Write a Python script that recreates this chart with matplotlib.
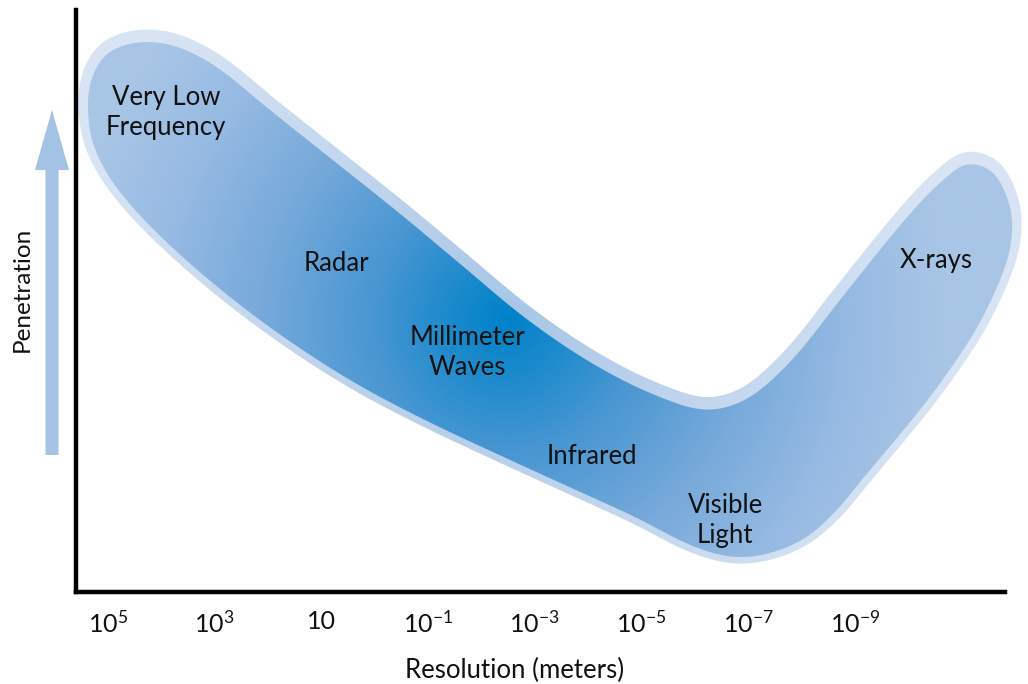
import numpy as np
import matplotlib
matplotlib.use("Agg")
import matplotlib.pyplot as plt
from matplotlib.patches import Polygon, FancyArrow
from matplotlib.colors import LinearSegmentedColormap

plt.rcParams['font.family'] = ['Lato', 'DejaVu Sans']
plt.rcParams['mathtext.fontset'] = 'custom'
plt.rcParams['mathtext.rm'] = 'Lato'

# ---------------- data ----------------
tick_exponents = [5, 3, 1, -1, -3, -5, -7, -9]
tick_labels = [r'$\mathregular{10^{5}}$', r'$\mathregular{10^{3}}$', '10',
               r'$\mathregular{10^{-1}}$', r'$\mathregular{10^{-3}}$',
               r'$\mathregular{10^{-5}}$', r'$\mathregular{10^{-7}}$',
               r'$\mathregular{10^{-9}}$']

# outline of the band (log10 resolution, penetration 0-100), clockwise
band_exp = [5.375, 5.281, 5.056, 4.738, 4.306, 3.744, 2.994, 1.963, 0.839,
            -0.473, -1.598, -2.817, -4.035, -5.160, -6.190, -6.940, -7.783,
            -8.721, -9.977, -10.595, -11.101, -11.570, -11.907, -11.907,
            -11.401, -10.839, -10.220, -9.189, -8.627, -8.065, -7.409,
            -6.752, -6.003, -4.878, -3.566, -2.254, -0.942, 0.370, 1.682,
            2.807, 3.744, 4.494, 5.000, 5.300]
band_pen = [84.5, 88.8, 92.1, 93.8, 94.5, 93.8, 90.4, 82.8, 74.6, 65.0,
            56.4, 47.1, 39.5, 34.2, 31.3, 33.0, 39.5, 50.2, 64.4, 70.3,
            73.5, 72.2, 66.2, 58.8, 47.3, 39.0, 31.3, 19.93, 13.75, 9.28,
            6.70, 6.01, 7.73, 12.89, 18.38, 23.88, 29.55, 35.91, 43.64,
            51.37, 58.76, 65.64, 71.65, 77.66]

region_labels = ["Very Low\nFrequency", "Radar", "Millimeter\nWaves",
                 "Infrared", "Visible\nLight", "X-rays"]
region_exp = [3.91, 0.71, -1.73, -4.07, -6.57, -10.52]
region_pen = [82.4, 56.4, 41.2, 23.2, 12.2, 57.0]

# gradient focus (darkest point)
focus_exp, focus_pen = -2.44, 46.7

# ---------------- layout ----------------
W, H = 1028, 684
fig = plt.figure(figsize=(W / 100, H / 100), dpi=100)
XL, XR = 5.6, -12.2
PX_PER_DEC = 53.35
PX_PER_PEN = 5.82
left_px = 108 - (XL - 5) * PX_PER_DEC
right_px = 108 + (5 - XR) * PX_PER_DEC
ax = fig.add_axes([left_px / W, 92 / H, (right_px - left_px) / W, 582 / H])
ax.set_xlim(XL, XR)
ax.set_ylim(0, 100)


def to_px(e, p):
    return np.column_stack([(5 - np.asarray(e)) * PX_PER_DEC,
                            np.asarray(p) * PX_PER_PEN])


def from_px(P):
    return np.column_stack([5 - P[:, 0] / PX_PER_DEC, P[:, 1] / PX_PER_PEN])


def cr_closed(P, n=30, alpha=0.5):
    N = len(P)
    out = []
    for i in range(N):
        p0, p1, p2, p3 = P[(i - 1) % N], P[i], P[(i + 1) % N], P[(i + 2) % N]
        t0 = 0.0
        t1 = t0 + np.linalg.norm(p1 - p0) ** alpha
        t2 = t1 + np.linalg.norm(p2 - p1) ** alpha
        t3 = t2 + np.linalg.norm(p3 - p2) ** alpha
        t = np.linspace(t1, t2, n, endpoint=False)[:, None]
        A1 = (t1 - t) / (t1 - t0) * p0 + (t - t0) / (t1 - t0) * p1
        A2 = (t2 - t) / (t2 - t1) * p1 + (t - t1) / (t2 - t1) * p2
        A3 = (t3 - t) / (t3 - t2) * p2 + (t - t2) / (t3 - t2) * p3
        B1 = (t2 - t) / (t2 - t0) * A1 + (t - t0) / (t2 - t0) * A2
        B2 = (t3 - t) / (t3 - t1) * A2 + (t - t1) / (t3 - t1) * A3
        out.append((t2 - t) / (t2 - t1) * B1 + (t - t1) / (t2 - t1) * B2)
    return np.vstack(out)


def smooth_closed(P, k=15):
    out = np.zeros_like(P)
    for s in range(-(k // 2), k // 2 + 1):
        out += np.roll(P, s, 0)
    return out / k


inner = smooth_closed(cr_closed(to_px(band_exp, band_pen)))
T = np.roll(inner, -1, 0) - np.roll(inner, 1, 0)
T /= np.linalg.norm(T, axis=1)[:, None]
x, y = inner[:, 0], inner[:, 1]
area = 0.5 * np.sum(x * np.roll(y, -1) - np.roll(x, -1) * y)
if area > 0:
    Nrm = np.column_stack([T[:, 1], -T[:, 0]])
else:
    Nrm = np.column_stack([-T[:, 1], T[:, 0]])
halo = inner + 9.5 * Nrm + np.array([0.0, 3.0])

inner_d = from_px(inner)
halo_d = from_px(halo)

halo_patch = Polygon(halo_d, closed=True, fill=False, lw=0)
inner_patch = Polygon(inner_d, closed=True, fill=False, lw=0)
ax.add_patch(halo_patch)
ax.add_patch(inner_patch)

# gradient image
nx, ny = 1000, 600
ge = np.linspace(XL, XR, nx)
gp = np.linspace(0, 100, ny)
GE, GP = np.meshgrid(ge, gp)
dist = np.hypot((GE - focus_exp) * PX_PER_DEC, (GP - focus_pen) * PX_PER_PEN)
r = np.clip(dist / 440.0, 0, 1)
cmap = LinearSegmentedColormap.from_list("band", [
    (0.00, (0 / 255, 130 / 255, 200 / 255)),
    (0.12, (26 / 255, 138 / 255, 204 / 255)),
    (0.30, (72 / 255, 150 / 255, 210 / 255)),
    (0.55, (118 / 255, 169 / 255, 218 / 255)),
    (0.80, (152 / 255, 187 / 255, 227 / 255)),
    (1.00, (168 / 255, 197 / 255, 230 / 255)),
])
halo_cmap = LinearSegmentedColormap.from_list("halo", [
    (0.00, (166 / 255, 198 / 255, 230 / 255)),
    (0.35, (188 / 255, 210 / 255, 236 / 255)),
    (1.00, (216 / 255, 228 / 255, 244 / 255)),
])
im_h = ax.imshow(r, cmap=halo_cmap, vmin=0, vmax=1, extent=(XL, XR, 0, 100),
                 origin='lower', aspect='auto', interpolation='bilinear',
                 zorder=1)
im_h.set_clip_path(halo_patch)
im_i = ax.imshow(r, cmap=cmap, vmin=0, vmax=1, extent=(XL, XR, 0, 100),
                 origin='lower', aspect='auto', interpolation='bilinear',
                 zorder=2)
im_i.set_clip_path(inner_patch)
ax.set_xlim(XL, XR)
ax.set_ylim(0, 100)

# region labels
for lab, e, p in zip(region_labels, region_exp, region_pen):
    ax.text(e, p, lab, ha='center', va='center', fontsize=18.5,
            color='#111111', zorder=5, linespacing=1.25)

# axes styling
for s in ['top', 'right']:
    ax.spines[s].set_visible(False)
for s in ['left', 'bottom']:
    ax.spines[s].set_linewidth(3.2)
    ax.spines[s].set_color('black')
    ax.spines[s].set_capstyle('projecting')
ax.spines['bottom'].set_bounds(-11.81, XL)
ax.set_yticks([])
ax.set_xticks(tick_exponents, tick_labels)
ax.tick_params(axis='x', length=0, pad=13, labelsize=18, colors='#111111')

# penetration arrow
arrow_base_pen = (592 - 455) / PX_PER_PEN
arrow_len = (455 - 110) / PX_PER_PEN
arr = FancyArrow(5 + 56 / PX_PER_DEC, arrow_base_pen, 0, arrow_len,
                 width=13 / PX_PER_DEC, head_width=34 / PX_PER_DEC,
                 head_length=60 / PX_PER_PEN, length_includes_head=True,
                 color='#a4c2e4', lw=0, clip_on=False, zorder=3)
ax.add_patch(arr)

fig.text(22 / W, 1 - 289 / H, "Penetration", rotation=90, ha='center',
         va='center', fontsize=17.5, color='#111111')
fig.text(515 / W, 1 - 670 / H, "Resolution (meters)", ha='center',
         va='center', fontsize=18.5, color='#111111')

fig.savefig("out.png", dpi=100, facecolor='white')
